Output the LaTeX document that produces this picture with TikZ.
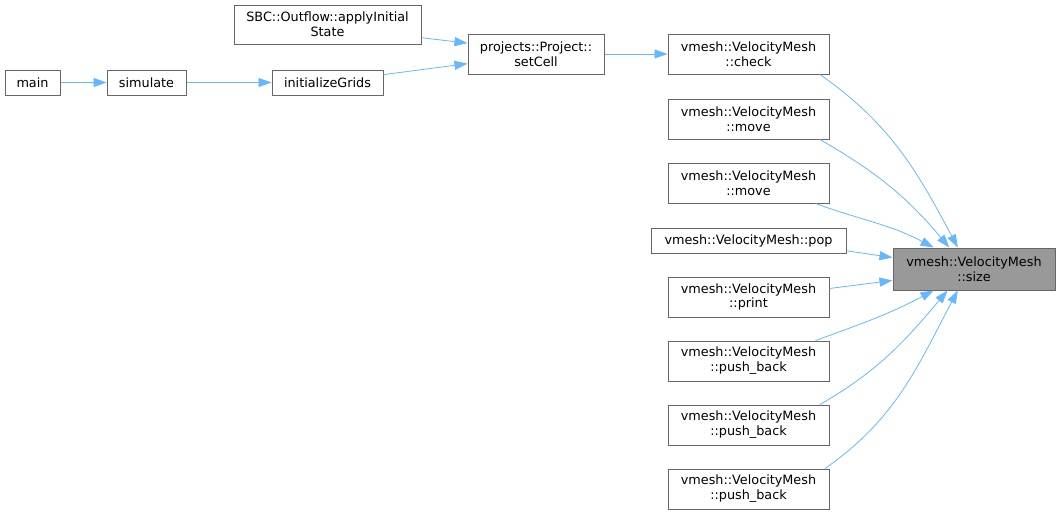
\documentclass[tikz,border=0pt]{standalone}
\usepackage{fontspec}
\setmainfont{DejaVu Sans}
\usetikzlibrary{arrows.meta}
\definecolor{edgeblue}{HTML}{63B8FF}
\definecolor{boxgray}{HTML}{666666}
\definecolor{fillgray}{HTML}{999999}
\tikzset{
    block/.style = {draw=boxgray, rectangle, fill=white, line width=1pt,
        inner sep=0pt, align=center,
        font=\fontsize{12.8}{14.8}\selectfont,
        minimum height=40pt,
        minimum width=161pt},
    oneline/.style = {minimum height=25pt},
    current/.style = {fill=fillgray},
    arrow/.style={draw=edgeblue, line width=0.8pt, -{Triangle[length=13pt,width=9pt]}}
}
\begin{document}
\begin{tikzpicture}[x=1pt,y=-1pt]
    \useasboundingbox (0,0) rectangle (1060,515);
    % callers on the left
    \node[block,oneline,minimum width=55pt] (main) at (32.5,82.5) {main};
    \node[block,oneline,minimum width=79pt] (simulate) at (146.5,82.5) {simulate};
    \node[block,oneline,minimum width=111pt] (initgrids) at (327.5,82.5) {initializeGrids};
    \node[block,minimum width=187pt,minimum height=39pt] (applyinit) at (327.5,24.5) {SBC::Outflow::applyInitial\\State};
    \node[block,minimum width=136pt] (setcell) at (536,54) {projects::Project::\\setCell};
    % direct callers of size
    \node[block] (check) at (748.5,54) {vmesh::VelocityMesh\\::check};
    \node[block] (moveA) at (748.5,119) {vmesh::VelocityMesh\\::move};
    \node[block] (moveB) at (748.5,183) {vmesh::VelocityMesh\\::move};
    \node[block,oneline,minimum width=195pt] (pop) at (748.5,240.5) {vmesh::VelocityMesh::pop};
    \node[block] (print) at (748.5,297) {vmesh::VelocityMesh\\::print};
    \node[block] (pushA) at (748.5,361) {vmesh::VelocityMesh\\::push\_back};
    \node[block] (pushB) at (748.5,425) {vmesh::VelocityMesh\\::push\_back};
    \node[block] (pushC) at (748.5,489) {vmesh::VelocityMesh\\::push\_back};
    \node[block,current,minimum width=162pt,minimum height=42pt] (size) at (974,269) {vmesh::VelocityMesh\\::size};

    \draw[arrow] (main) -- (simulate);
    \draw[arrow] (simulate) -- (initgrids);
    \draw[arrow] (initgrids.8) -- (setcell.-172);
    \draw[arrow] (applyinit.-8) -- (setcell.171);
    \draw[arrow] (setcell) -- (check);

    \draw[arrow] (check.-16) to[out=-35,in=118] (size.127);
    \draw[arrow] (moveA.-16) to[out=-30,in=130] (size.139);
    \draw[arrow] (moveB.-17) to[out=-20,in=152] (size.152);
    \draw[arrow] (pop.-6) -- (size.172);
    \draw[arrow] (print.6) -- (size.188);
    \draw[arrow] (pushA.17) to[out=20,in=-152] (size.-152);
    \draw[arrow] (pushB.16) to[out=30,in=-130] (size.-141);
    \draw[arrow] (pushC.15) to[out=35,in=-118] (size.-127);
\end{tikzpicture}
\end{document}
